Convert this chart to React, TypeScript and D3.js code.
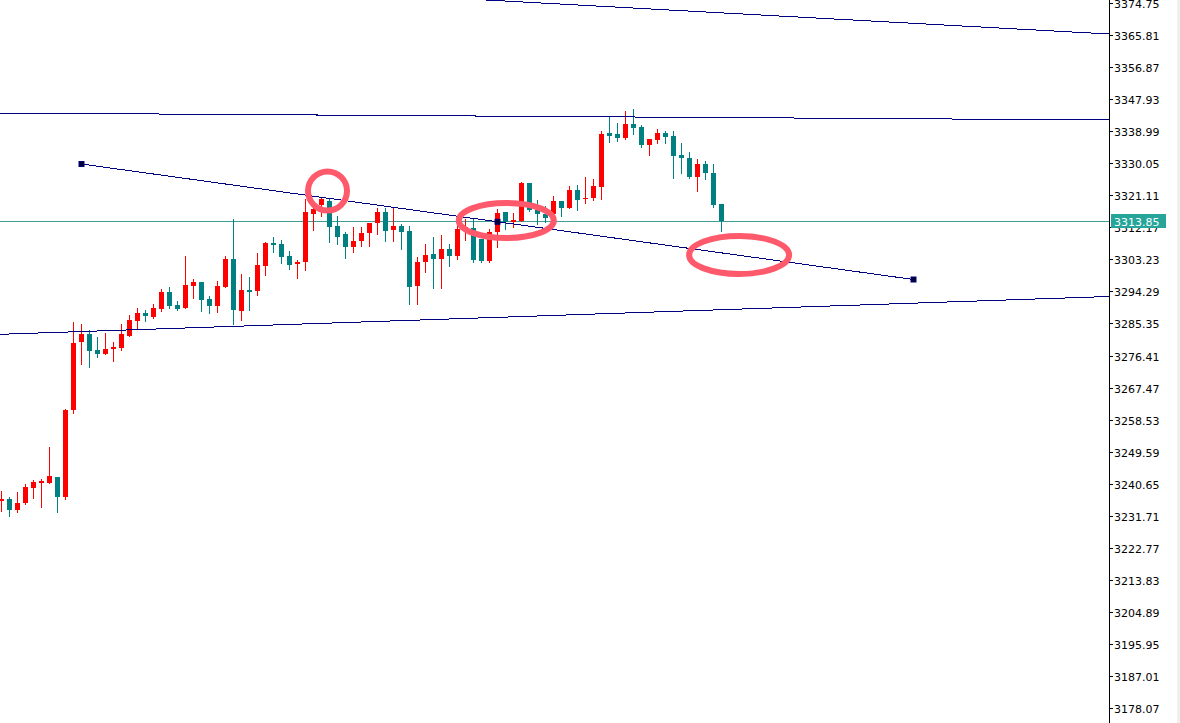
import * as d3 from "d3";

// OHLC per bar (bar index 0..90)
const opens = [
  3235.8, 3236.4, 3233.3, 3235.3, 3239.5, 3240.8, 3240.8, 3242.5, 3236.9, 3261.2,
  3280.2, 3282.4, 3278.0, 3276.8, 3278.2, 3278.5, 3281.9, 3286.0, 3288.3, 3287.2,
  3289.4, 3294.1, 3290.5, 3289.7, 3295.8, 3296.9, 3292.2, 3290.2, 3295.5, 3303.3,
  3288.8, 3294.7, 3294.4, 3301.4, 3307.8, 3307.5, 3304.2, 3301.9, 3302.5, 3315.9,
  3318.4, 3319.5, 3312.5, 3310.3, 3306.7, 3308.4, 3310.6, 3313.4, 3316.5, 3311.4,
  3312.5, 3311.1, 3295.8, 3302.5, 3304.7, 3303.3, 3306.1, 3304.2, 3311.7, 3312.0,
  3308.9, 3302.8, 3310.9, 3316.4, 3313.7, 3313.9, 3324.5, 3317.0, 3315.9, 3315.9,
  3319.5, 3317.6, 3322.6, 3320.1, 3320.4, 3323.4, 3338.5, 3338.2, 3337.1, 3341.0,
  3340.2, 3335.1, 3336.5, 3338.5, 3337.6, 3332.4, 3331.5, 3326.2, 3329.8, 3327.3,
  3318.7,
];
const highs = [
  3238.6, 3236.9, 3238.3, 3240.6, 3241.7, 3242.0, 3250.9, 3242.5, 3261.5, 3285.8,
  3285.2, 3283.5, 3281.6, 3282.7, 3280.2, 3285.2, 3287.7, 3289.7, 3289.1, 3290.8,
  3295.0, 3295.5, 3291.6, 3304.2, 3297.8, 3296.9, 3293.0, 3297.2, 3304.2, 3314.5,
  3299.2, 3298.3, 3305.0, 3308.1, 3309.5, 3308.6, 3305.6, 3303.1, 3320.1, 3319.5,
  3320.6, 3320.1, 3315.3, 3310.9, 3312.3, 3312.3, 3313.4, 3317.6, 3317.6, 3317.6,
  3313.1, 3312.5, 3303.9, 3307.5, 3309.5, 3310.0, 3307.5, 3312.8, 3314.5, 3314.5,
  3308.9, 3311.7, 3317.3, 3316.4, 3316.2, 3324.8, 3324.5, 3319.8, 3318.1, 3320.9,
  3319.5, 3323.7, 3324.0, 3326.2, 3325.7, 3339.0, 3343.0, 3341.3, 3344.6, 3345.2,
  3340.7, 3336.8, 3339.6, 3339.0, 3339.0, 3335.7, 3333.2, 3331.2, 3330.7, 3329.8,
  3318.7,
];
const lows = [
  3233.0, 3231.6, 3232.8, 3235.0, 3236.7, 3234.2, 3240.8, 3232.8, 3236.4, 3260.4,
  3274.0, 3273.2, 3276.0, 3276.8, 3274.9, 3278.0, 3281.9, 3283.8, 3286.0, 3286.9,
  3288.8, 3289.7, 3289.1, 3289.7, 3292.5, 3288.8, 3288.3, 3288.6, 3295.5, 3285.2,
  3286.3, 3289.1, 3293.3, 3298.9, 3305.3, 3302.2, 3300.5, 3298.0, 3300.3, 3311.4,
  3315.3, 3308.1, 3307.5, 3303.6, 3305.3, 3307.0, 3307.0, 3310.3, 3308.4, 3308.4,
  3306.1, 3290.8, 3290.8, 3299.7, 3295.2, 3295.2, 3301.4, 3303.3, 3308.6, 3302.5,
  3302.5, 3302.5, 3306.7, 3311.7, 3312.3, 3313.9, 3316.7, 3313.1, 3313.7, 3313.7,
  3315.3, 3317.6, 3317.0, 3319.0, 3319.8, 3320.1, 3336.0, 3336.3, 3336.8, 3338.2,
  3334.6, 3332.4, 3335.7, 3335.7, 3325.9, 3327.3, 3325.9, 3322.3, 3325.7, 3317.8,
  3311.1,
];
const closes = [
  3236.4, 3233.3, 3235.3, 3239.7, 3241.1, 3241.4, 3242.8, 3236.9, 3261.2, 3279.9,
  3282.4, 3277.7, 3276.8, 3278.2, 3278.8, 3282.4, 3286.3, 3288.3, 3287.4, 3289.7,
  3294.1, 3290.2, 3289.4, 3296.1, 3296.9, 3291.9, 3290.2, 3295.8, 3303.3, 3289.1,
  3294.7, 3294.1, 3301.7, 3307.8, 3307.2, 3303.9, 3301.7, 3302.5, 3316.5, 3317.3,
  3320.1, 3312.3, 3309.5, 3306.7, 3308.4, 3310.6, 3313.4, 3316.5, 3311.1, 3312.5,
  3310.9, 3295.5, 3302.5, 3304.5, 3303.3, 3306.1, 3304.2, 3311.7, 3312.3, 3303.1,
  3302.8, 3310.9, 3316.2, 3313.7, 3314.2, 3324.5, 3317.0, 3315.9, 3314.8, 3319.5,
  3317.6, 3322.6, 3319.8, 3320.4, 3323.7, 3338.2, 3337.6, 3337.1, 3341.0, 3339.9,
  3335.1, 3336.8, 3338.5, 3337.4, 3332.1, 3331.5, 3326.2, 3329.8, 3327.3, 3318.4,
  3313.85,
];

const priceTicks = [
  "3374.75", "3365.81", "3356.87", "3347.93", "3338.99", "3330.05", "3321.11",
  "3312.17", "3303.23", "3294.29", "3285.35", "3276.41", "3267.47", "3258.53",
  "3249.59", "3240.65", "3231.71", "3222.77", "3213.83", "3204.89", "3195.95",
  "3187.01", "3178.07",
];
const lastPrice = 3313.85;

// drawn objects: [bar index, price]
const channelTop = [[60.56, 3375.59], [138.44, 3366.1]];
const channelMid = [[-0.19, 3344.06], [138.44, 3342.11]];
const channelLow = [[-0.19, 3282.32], [138.44, 3292.87]];
const trendLine = [[10, 3329.83], [114, 3297.61]];
const marks = [
  { bar: 40.75, price: 3322.3, rx: 19.5, ry: 19.5 },
  { bar: 63.1, price: 3314.07, rx: 47.5, ry: 17.5 },
  { bar: 92.2, price: 3304.45, rx: 50, ry: 19 },
];

const W = 1180;
const H = 723;
const axisX = 1109;

const x = d3.scaleLinear().domain([0, 90]).range([1.5, 721.5]);
const y = d3.scaleLinear().domain([3178.07, 3374.75]).range([708, 3]);

const UP = "#ff0000";
const DOWN = "#008080";
const NAVY = "#000080";

export default function App() {
  const lineOf = (pts: number[][]) => ({
    x1: x(pts[0][0]),
    y1: y(pts[0][1]),
    x2: x(pts[1][0]),
    y2: y(pts[1][1]),
  });
  const tl = lineOf(trendLine);
  const anchors = [
    [tl.x1, tl.y1],
    [(tl.x1 + tl.x2) / 2, (tl.y1 + tl.y2) / 2],
    [tl.x2, tl.y2],
  ];
  const lastY = Math.round(y(lastPrice)) + 0.5;

  return (
    <svg
      width={W}
      height={H}
      style={{ position: "absolute", left: 0, top: 0, background: "#fff" }}
      fontFamily="DejaVu Sans, sans-serif"
    >
      <defs>
        <clipPath id="plot">
          <rect x={0} y={0} width={axisX} height={H} />
        </clipPath>
      </defs>
      <rect x={1177} y={0} width={3} height={H} fill="#f0f0f0" />

      <g clipPath="url(#plot)">
        <line x1={0} x2={axisX} y1={lastY} y2={lastY} stroke="#3f9e95" strokeWidth={1} />

        {opens.map((o, i) => {
          const c = closes[i];
          const col = c >= o ? UP : DOWN;
          const cx = Math.round(x(i) - 0.5) + 0.5;
          const top = Math.round(y(Math.max(o, c)));
          const bot = Math.round(y(Math.min(o, c)));
          return (
            <g key={i}>
              <line
                x1={cx}
                x2={cx}
                y1={Math.round(y(highs[i]))}
                y2={Math.round(y(lows[i])) + 1}
                stroke={col}
                strokeWidth={1}
              />
              <rect
                x={cx - 2.5}
                y={top}
                width={5}
                height={Math.max(1, bot - top)}
                fill={col}
              />
            </g>
          );
        })}

        <g stroke={NAVY} strokeWidth={1} shapeRendering="crispEdges">
          <line {...lineOf(channelTop)} />
          <line {...lineOf(channelMid)} />
          <line {...lineOf(channelLow)} />
          <line {...tl} />
        </g>
        {anchors.map(([ax, ay], i) => (
          <rect
            key={i}
            x={ax - 2.5}
            y={ay - 2.5}
            width={5}
            height={5}
            fill="#000033"
            stroke={NAVY}
            strokeWidth={1}
          />
        ))}

        {marks.map((m, i) => (
          <ellipse
            key={i}
            cx={x(m.bar)}
            cy={y(m.price)}
            rx={m.rx}
            ry={m.ry}
            fill="none"
            stroke="#ff5a6b"
            strokeWidth={6}
          />
        ))}
      </g>

      <line x1={axisX + 0.5} x2={axisX + 0.5} y1={0} y2={H} stroke="#000" />
      {priceTicks.map((t) => {
        const ty = Math.round(y(+t)) + 0.5;
        return (
          <g key={t}>
            <line x1={axisX} x2={axisX + 4} y1={ty} y2={ty} stroke="#000" />
            <text x={axisX + 5} y={ty + 4} fontSize={11} fill="#000">
              {t}
            </text>
          </g>
        );
      })}
      <rect x={axisX + 2} y={lastY - 7.5} width={55} height={14} fill="#26a69a" />
      <text x={axisX + 5} y={lastY + 4} fontSize={11} fill="#fff">
        {lastPrice.toFixed(2)}
      </text>
    </svg>
  );
}
